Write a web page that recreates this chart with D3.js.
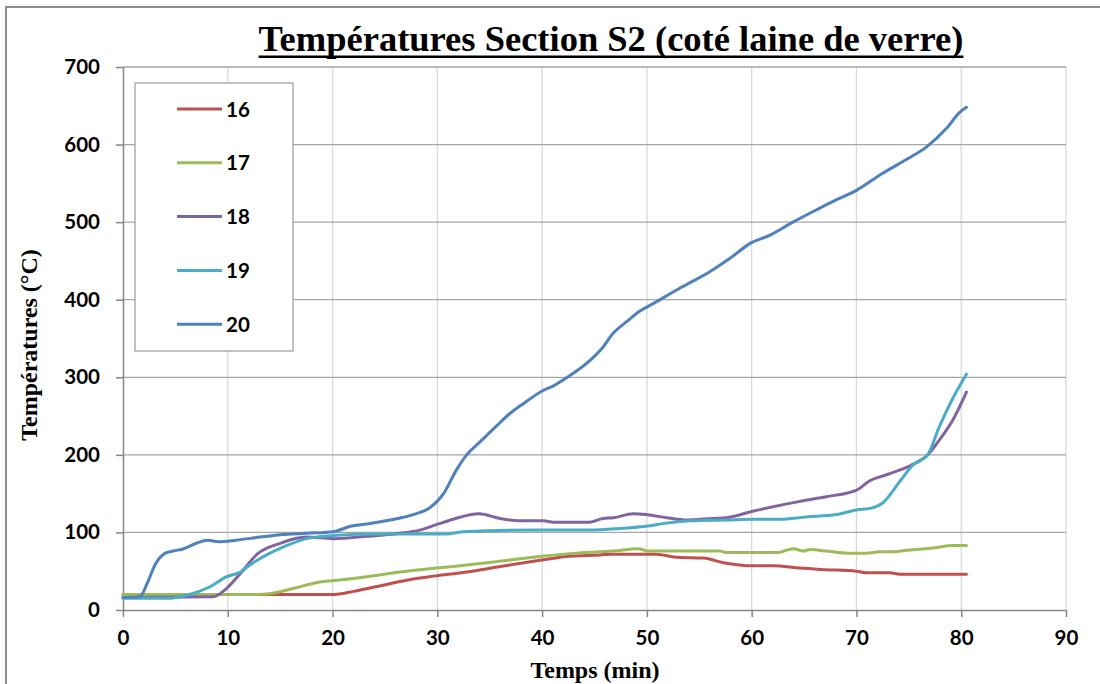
<!DOCTYPE html>
<html>
<head>
<meta charset="utf-8">
<script src="https://cdn.jsdelivr.net/npm/d3@7"></script>
<style>
  body { margin: 0; background: #fff; }
  svg { display: block; }
</style>
</head>
<body>
<div id="chart"></div>
<script>
const width = 1100;
const height = 684;

// series: [temps (min), température (°C)]
const s16 = [[0,20],[12,20],[20,20],[22,24],[24.8,32],[27.7,40],[29.9,44],[32.8,49],[36,56],[39.8,64],[42.3,69],[45.5,71],[46.8,72],[50.9,72],[52.8,68],[55.4,67],[57.3,61],[60.1,57],[62,57],[64.6,54],[67.1,52],[70,50],[71,48],[73.2,48],[74.1,46],[80.5,46]];
const s17 = [[0,20],[12.8,20],[14,21],[16.3,28],[18.8,36],[20.1,38],[23.3,43],[26.4,49],[29.9,54],[32.8,58],[36,63],[39.8,69],[43,73],[45.5,75],[46.8,76],[49.2,79],[50.1,76],[57,76],[57.6,74],[62.4,74],[64,79],[64.9,76],[65.6,78],[67.1,76],[69.6,73],[71,73],[72.2,75],[73.2,75],[74.8,77],[77.3,80],[79.2,83],[80.5,83]];
const s18 = [[0,16],[8.6,17],[9.9,28],[11.2,47],[12.8,72],[15,86],[17.5,94],[20.1,92],[23.3,95],[26.4,99],[28.3,103],[29.9,110],[31.5,117],[34,124],[36,118],[37.9,115],[40.1,115],[41.1,113],[44.4,113],[45.8,118],[46.8,119],[48.7,124],[49.9,123],[51.9,119],[53.8,116],[56.3,118],[57.6,119],[60,127],[64.6,140],[67.1,146],[69.7,153],[70.1,155],[71.2,166],[73,175],[75.1,186],[76.8,200],[77.9,219],[79.2,245],[80.5,281]];
const s19 = [[0,15],[4.2,15],[6.1,19],[8.3,30],[9.9,43],[11.2,49],[12.1,58],[13.7,71],[15.6,83],[17.5,92],[20.1,96],[23.3,98],[30.9,98],[32.5,101],[39.8,103],[44.6,103],[47.4,105],[49.9,108],[51.9,112],[54.4,115],[57.6,116],[60.1,117],[62.7,117],[65.2,120],[68.1,123],[70,129],[71.3,131],[72.5,138],[74.1,165],[75.4,187],[76.8,200],[77.9,236],[79.2,273],[80.5,304]];
const s20 = [[0,16],[1.6,17],[2.3,34],[3.05,58],[4,73],[4.8,76],[5.8,79],[7,86],[8.1,90],[9.1,88],[10.8,90],[13.1,94],[15,97],[17.5,99],[20.1,101],[21.7,108],[23.3,111],[25.5,116],[27.7,123],[29.3,132],[30.6,150],[31.8,180],[32.8,200],[34.1,217],[35.7,238],[36.9,253],[38.2,266],[40.1,283],[41.1,289],[42.3,299],[44.6,322],[45.7,337],[46.8,357],[48.1,372],[49.3,385],[50.6,395],[53.3,416],[56,436],[57.9,453],[59.9,473],[61.7,483],[63.8,499],[66.2,516],[68.1,529],[70,541],[72.5,563],[74.8,581],[76.7,597],[78.6,621],[79.9,642],[80.5,648]];

const seriesNames = ["16", "17", "18", "19", "20"];
const seriesData = [s16, s17, s18, s19, s20];
const colors = ["#c0504d", "#9bbb59", "#8064a2", "#4bacc6", "#4f81bd"];
const xTicks = [0, 10, 20, 30, 40, 50, 60, 70, 80, 90];
const yTicks = [0, 100, 200, 300, 400, 500, 600, 700];

const svg = d3.select("#chart").append("svg")
	.attr("width", width)
	.attr("height", height);

// outer frame (only left/top visible)
svg.append("path")
	.attr("d", "M6,684 V7 H1100")
	.attr("fill", "none")
	.attr("stroke", "#8c8c8c")
	.attr("stroke-width", 2);

const x = d3.scaleLinear().domain([0, 90]).range([123, 1066]);
const y = d3.scaleLinear().domain([0, 700]).range([610, 67]);

// gridlines
svg.append("g").selectAll("line")
	.data(xTicks.slice(1))
	.join("line")
	.attr("x1", d => x(d)).attr("x2", d => x(d))
	.attr("y1", y(700)).attr("y2", y(0))
	.attr("stroke", "#d9d9d9").attr("stroke-width", 1.3);

svg.append("g").selectAll("line")
	.data(yTicks.slice(1))
	.join("line")
	.attr("x1", x(0)).attr("x2", x(90))
	.attr("y1", d => y(d)).attr("y2", d => y(d))
	.attr("stroke", "#a6a6a6").attr("stroke-width", 1.3);

// axes
const tickFont = "Lato, 'Open Sans', sans-serif";

const xAxis = svg.append("g")
	.attr("transform", `translate(0,${y(0)})`)
	.call(d3.axisBottom(x).tickValues(xTicks).tickSize(7).tickPadding(13).tickSizeOuter(0));
const yAxis = svg.append("g")
	.attr("transform", `translate(${x(0)},0)`)
	.call(d3.axisLeft(y).tickValues(yTicks).tickSize(7).tickPadding(16).tickSizeOuter(0));

[xAxis, yAxis].forEach(g => {
	g.select(".domain").attr("stroke", "#868686").attr("stroke-width", 1.5);
	g.selectAll(".tick line").attr("stroke", "#868686").attr("stroke-width", 1.5);
	g.selectAll(".tick text")
		.attr("fill", "#000")
		.style("font-family", tickFont)
		.style("font-weight", "bold")
		.style("font-size", "20.5px");
});

// lines
const line = d3.line()
	.x(d => x(d[0]))
	.y(d => y(d[1]))
	.curve(d3.curveMonotoneX);

svg.append("g").selectAll("path")
	.data(seriesData)
	.join("path")
	.attr("d", line)
	.attr("fill", "none")
	.attr("stroke", (d, i) => colors[i])
	.attr("stroke-width", 3)
	.attr("stroke-linejoin", "round")
	.attr("stroke-linecap", "round");

// legend
const legend = svg.append("g");
legend.append("rect")
	.attr("x", 135).attr("y", 83)
	.attr("width", 158).attr("height", 268)
	.attr("fill", "#fff")
	.attr("stroke", "#9a9a9a")
	.attr("stroke-width", 1.2);

const items = legend.selectAll("g.item")
	.data(seriesNames)
	.join("g")
	.attr("class", "item")
	.attr("transform", (d, i) => `translate(0,${109 + i * 53.8})`);

items.append("line")
	.attr("x1", 177).attr("x2", 222)
	.attr("stroke", (d, i) => colors[i])
	.attr("stroke-width", 3);

items.append("text")
	.attr("x", 226).attr("y", 7.5)
	.text(d => d)
	.style("font-family", tickFont)
	.style("font-weight", "bold")
	.style("font-size", "20.5px");

// titles
const serif = "'Liberation Serif', 'Times New Roman', serif";

const title = svg.append("text")
	.attr("x", 611).attr("y", 51)
	.attr("text-anchor", "middle")
	.style("font-family", serif)
	.style("font-weight", "bold")
	.style("font-size", "36.5px")
	.text("Températures Section S2 (coté laine de verre)");

const tb = title.node().getBBox();
svg.append("rect")
	.attr("x", tb.x).attr("y", 55.5)
	.attr("width", tb.width).attr("height", 2.5)
	.attr("fill", "#000");

svg.append("text")
	.attr("transform", "translate(37,345) rotate(-90)")
	.attr("text-anchor", "middle")
	.style("font-family", serif)
	.style("font-weight", "bold")
	.style("font-size", "24px")
	.text("Températures (°C)");

svg.append("text")
	.attr("x", 595).attr("y", 678)
	.attr("text-anchor", "middle")
	.style("font-family", serif)
	.style("font-weight", "bold")
	.style("font-size", "24px")
	.text("Temps (min)");
</script>
</body>
</html>
